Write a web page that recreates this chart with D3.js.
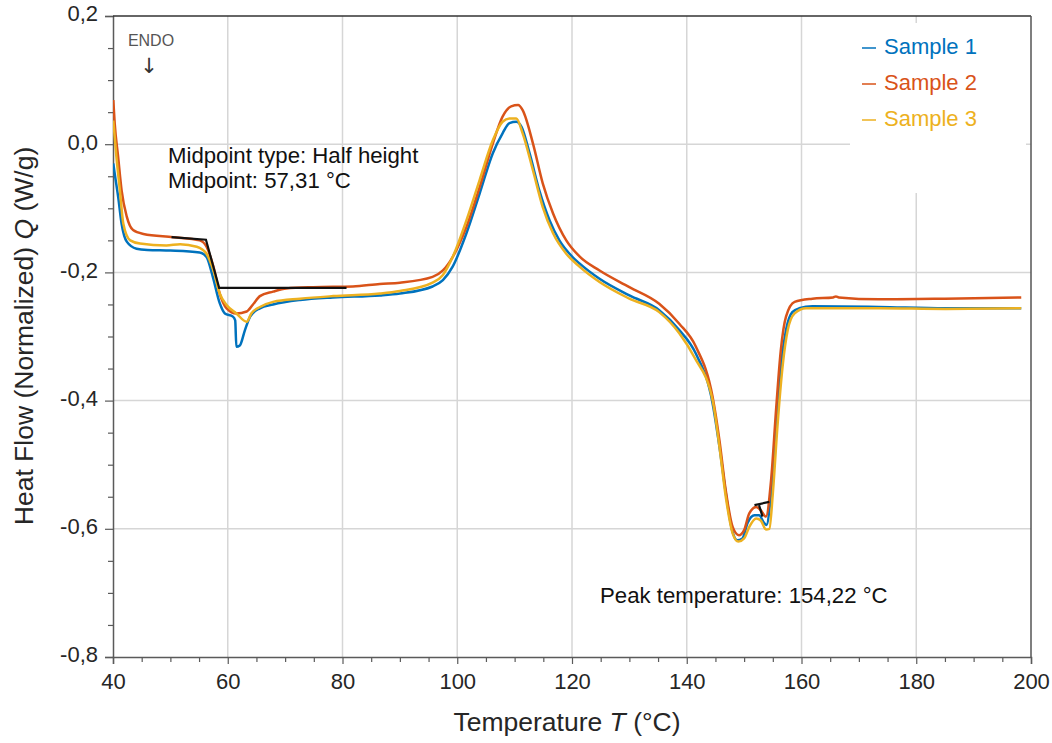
<!DOCTYPE html>
<html>
<head>
<meta charset="utf-8">
<script src="https://cdn.jsdelivr.net/npm/d3@7"></script>
<style>
  html, body { margin: 0; padding: 0; background: #ffffff; }
  svg { display: block; font-family: "Liberation Sans", Arial, sans-serif; }
</style>
</head>
<body>
<svg id="chart" width="1052" height="743"></svg>
<script>
// ---------------- DATA ----------------
const seriesNames = ["Sample 1", "Sample 2", "Sample 3"];
const seriesColors = ["#0072BD", "#D95319", "#EDB120"];

const sample1T = [40.05, 40.3, 40.9, 41.5, 42.4, 44.1, 46.0, 50.0, 55.1, 56.3, 57.4, 58.6, 59.5, 60.9, 61.3, 61.5, 62.1, 63.0, 63.9, 65.6, 67.9, 72.6, 78.3, 86.5, 90.0, 95.7, 97.5, 99.2, 101.6, 103.9, 106.2, 107.9, 109.1, 110.3, 111.2, 112.6, 114.3, 116.1, 117.8, 120.1, 121.3, 124.8, 130.0, 135.2, 138.7, 141.6, 144.5, 145.7, 146.8, 147.9, 148.8, 149.7, 150.6, 151.8, 152.6, 153.5, 153.9, 154.7, 155.6, 156.4, 157.3, 158.4, 159.6, 161.9, 173.5, 185.0, 198.3];
const sample1Q = [-0.030, -0.046, -0.082, -0.124, -0.152, -0.163, -0.165, -0.166, -0.169, -0.176, -0.207, -0.248, -0.264, -0.269, -0.275, -0.316, -0.314, -0.290, -0.269, -0.256, -0.250, -0.243, -0.239, -0.236, -0.233, -0.222, -0.212, -0.191, -0.139, -0.077, -0.014, 0.017, 0.033, 0.035, 0.027, -0.014, -0.072, -0.119, -0.150, -0.176, -0.186, -0.210, -0.236, -0.259, -0.290, -0.327, -0.404, -0.472, -0.544, -0.602, -0.618, -0.615, -0.591, -0.579, -0.579, -0.591, -0.594, -0.544, -0.441, -0.347, -0.290, -0.262, -0.256, -0.253, -0.254, -0.256, -0.256];

const sample2T = [40.05, 40.3, 40.9, 41.5, 42.4, 43.5, 45.3, 50.5, 55.1, 56.3, 57.5, 58.6, 59.8, 61.5, 63.3, 64.4, 65.6, 67.9, 70.2, 74.9, 81.8, 86.5, 90.0, 95.7, 97.5, 99.2, 101.6, 103.9, 106.2, 107.9, 109.4, 110.6, 111.4, 113.2, 114.9, 116.7, 119.0, 121.3, 124.8, 130.0, 135.2, 138.7, 141.6, 144.5, 145.7, 146.8, 148.0, 149.1, 150.0, 150.9, 152.1, 152.9, 153.8, 154.7, 155.6, 156.4, 157.3, 158.8, 161.9, 165.5, 166.0, 166.5, 173.5, 185.0, 198.3];
const sample2Q = [0.069, 0.032, -0.020, -0.072, -0.113, -0.134, -0.140, -0.145, -0.150, -0.160, -0.191, -0.233, -0.256, -0.264, -0.261, -0.250, -0.237, -0.230, -0.225, -0.223, -0.222, -0.218, -0.216, -0.207, -0.197, -0.176, -0.129, -0.067, 0.001, 0.043, 0.059, 0.061, 0.053, 0.001, -0.061, -0.108, -0.150, -0.175, -0.197, -0.223, -0.249, -0.280, -0.316, -0.394, -0.462, -0.540, -0.597, -0.610, -0.602, -0.576, -0.566, -0.571, -0.581, -0.524, -0.410, -0.321, -0.269, -0.246, -0.241, -0.239, -0.2375, -0.239, -0.242, -0.241, -0.239];

const sample3T = [40.05, 40.6, 41.2, 41.8, 43.0, 44.7, 49.3, 51.7, 54.6, 56.3, 57.5, 58.6, 59.8, 61.5, 63.3, 64.1, 65.6, 67.9, 72.6, 78.4, 86.5, 90.0, 95.7, 97.5, 99.2, 101.6, 103.9, 106.2, 107.9, 109.1, 110.3, 111.4, 113.2, 114.9, 116.7, 119.0, 121.3, 124.8, 130.0, 135.2, 138.7, 141.3, 144.5, 145.7, 146.8, 148.0, 149.0, 150.0, 150.9, 152.1, 152.9, 153.8, 154.4, 155.0, 155.8, 156.7, 157.6, 158.8, 160.8, 173.5, 185.0, 198.3];
const sample3Q = [0.037, -0.020, -0.072, -0.124, -0.150, -0.155, -0.158, -0.156, -0.160, -0.171, -0.197, -0.233, -0.251, -0.264, -0.277, -0.264, -0.254, -0.246, -0.241, -0.237, -0.233, -0.229, -0.216, -0.204, -0.176, -0.119, -0.056, 0.006, 0.035, 0.040, 0.040, 0.017, -0.041, -0.098, -0.139, -0.171, -0.191, -0.215, -0.241, -0.262, -0.295, -0.332, -0.399, -0.472, -0.550, -0.607, -0.620, -0.615, -0.597, -0.584, -0.587, -0.601, -0.600, -0.545, -0.441, -0.347, -0.290, -0.264, -0.256, -0.256, -0.257, -0.256];

// Glass transition construction (black) and peak construction
const tgLineT = [50.2, 56.2, 58.5, 80.7];
const tgLineQ = [-0.145, -0.149, -0.224, -0.224];
const peakLine1T = [151.8, 154.4];
const peakLine1Q = [-0.563, -0.558];
const peakLine2T = [152.6, 153.2];
const peakLine2Q = [-0.563, -0.581];

// Axes
const xDomain = [40, 200];
const yDomain = [-0.8, 0.2];
const xMajorTicks = [40, 60, 80, 100, 120, 140, 160, 180, 200];
const xTickLabels = ["40", "60", "80", "100", "120", "140", "160", "180", "200"];
const yMajorTicks = [0.2, 0.0, -0.2, -0.4, -0.6, -0.8];
const yTickLabels = ["0,2", "0,0", "-0,2", "-0,4", "-0,6", "-0,8"];
const xMinorStep = 5;
const yMinorStep = 0.05;

const annotations = [
  { text: "Midpoint type: Half height", x: 168, y: 163 },
  { text: "Midpoint: 57,31 °C", x: 168, y: 188 },
  { text: "Peak temperature: 154,22 °C", x: 600, y: 603 }
];

// ---------------- CHART ----------------
const svg = d3.select("#chart");
const L = 113, R = 1031, T = 16, B = 657;
const x = d3.scaleLinear().domain(xDomain).range([L, R]);
const y = d3.scaleLinear().domain(yDomain).range([B, T]);

const gridColor = "#d6d6d6";
const axisColor = "#5a5a5a";
const textColor = "#262626";

// gridlines
const g = svg.append("g");
g.selectAll(".vgrid").data(xMajorTicks.filter(d => d > xDomain[0] && d < xDomain[1]))
  .enter().append("line")
  .attr("x1", d => x(d)).attr("x2", d => x(d))
  .attr("y1", T).attr("y2", B)
  .attr("stroke", gridColor).attr("stroke-width", 1.5);
g.selectAll(".hgrid").data(yMajorTicks.filter(d => d > yDomain[0] && d < yDomain[1]))
  .enter().append("line")
  .attr("x1", L).attr("x2", R)
  .attr("y1", d => y(d)).attr("y2", d => y(d))
  .attr("stroke", gridColor).attr("stroke-width", 1.5);

// legend background box (hides grid)
svg.append("rect").attr("x", 850).attr("y", 23).attr("width", 176).attr("height", 170)
  .attr("fill", "#ffffff");

// minor ticks
const xMinor = d3.range(xDomain[0], xDomain[1] + 0.001, xMinorStep);
const yMinor = d3.range(yDomain[0], yDomain[1] + 0.0001, yMinorStep);

// x axis
const xAxis = d3.axisBottom(x).tickValues(xMajorTicks)
  .tickFormat((d, i) => xTickLabels[i]).tickSize(7).tickPadding(9);
const xg = svg.append("g").attr("transform", `translate(0,${B})`).call(xAxis);
xg.select(".domain").attr("stroke", axisColor).attr("stroke-width", 1.5);
xg.selectAll(".tick line").attr("stroke", axisColor).attr("stroke-width", 1.2);
xg.selectAll(".tick text").attr("fill", textColor).attr("font-size", 22)
  .attr("font-family", "Liberation Sans, Arial, sans-serif");
const xgm = svg.append("g").attr("transform", `translate(0,${B})`)
  .call(d3.axisBottom(x).tickValues(xMinor.filter(v => !xMajorTicks.includes(v))).tickSize(5).tickFormat(""));
xgm.select(".domain").remove();
xgm.selectAll(".tick line").attr("stroke", axisColor).attr("stroke-width", 1.2);

// y axis
const yAxis = d3.axisLeft(y).tickValues(yMajorTicks)
  .tickFormat((d, i) => yTickLabels[i]).tickSize(8).tickPadding(7);
const yg = svg.append("g").attr("transform", `translate(${L},0)`).call(yAxis);
yg.select(".domain").attr("stroke", axisColor).attr("stroke-width", 1.5);
yg.selectAll(".tick line").attr("stroke", axisColor).attr("stroke-width", 1.2);
yg.selectAll(".tick text").attr("fill", textColor).attr("font-size", 22)
  .attr("dy", "0.22em")
  .attr("font-family", "Liberation Sans, Arial, sans-serif");
const ygm = svg.append("g").attr("transform", `translate(${L},0)`)
  .call(d3.axisLeft(y).tickValues(yMinor.filter(v => !yMajorTicks.some(t => Math.abs(t - v) < 1e-6))).tickSize(5).tickFormat(""));
ygm.select(".domain").remove();
ygm.selectAll(".tick line").attr("stroke", axisColor).attr("stroke-width", 1.2);

// top and right frame
svg.append("line").attr("x1", L).attr("x2", R).attr("y1", T).attr("y2", T)
  .attr("stroke", "#333").attr("stroke-width", 1.5);
svg.append("line").attr("x1", R).attr("x2", R).attr("y1", T).attr("y2", B)
  .attr("stroke", "#555").attr("stroke-width", 1.5);

// clip
svg.append("clipPath").attr("id", "plotclip").append("rect")
  .attr("x", L).attr("y", T).attr("width", R - L).attr("height", B - T);

const line = d3.line().x(d => x(d[0])).y(d => y(d[1])).curve(d3.curveMonotoneX);
const zipPts = (a, b) => a.map((v, i) => [v, b[i]]);

const series = [
  zipPts(sample1T, sample1Q),
  zipPts(sample2T, sample2Q),
  zipPts(sample3T, sample3Q)
];
const plot = svg.append("g").attr("clip-path", "url(#plotclip)");
plot.selectAll(".series").data(series).enter().append("path")
  .attr("d", d => line(d))
  .attr("fill", "none")
  .attr("stroke", (d, i) => seriesColors[i])
  .attr("stroke-width", 2.5)
  .attr("stroke-linejoin", "round");

// black construction lines
const lineLin = d3.line().x(d => x(d[0])).y(d => y(d[1]));
[zipPts(tgLineT, tgLineQ), zipPts(peakLine1T, peakLine1Q), zipPts(peakLine2T, peakLine2Q)]
  .forEach(pts => {
    plot.append("path").attr("d", lineLin(pts)).attr("fill", "none")
      .attr("stroke", "#111").attr("stroke-width", 2.2);
  });

// annotations
svg.selectAll(".ann").data(annotations).enter().append("text")
  .attr("x", d => d.x).attr("y", d => d.y)
  .attr("font-size", 22.2).attr("fill", "#111")
  .text(d => d.text);

// ENDO marker
svg.append("text").attr("x", 151).attr("y", 46).attr("text-anchor", "middle")
  .attr("font-size", 16).attr("fill", "#555").text("ENDO");
svg.append("text").attr("x", 149).attr("y", 73).attr("text-anchor", "middle")
  .attr("font-size", 21).attr("fill", "#333")
  .attr("font-family", "DejaVu Sans, sans-serif").text("↓");

// legend
const leg = svg.append("g");
seriesNames.forEach((name, i) => {
  const yy = 54 + i * 36;
  leg.append("line").attr("x1", 862).attr("x2", 876).attr("y1", yy - 6).attr("y2", yy - 6)
    .attr("stroke", seriesColors[i]).attr("stroke-width", 1.5);
  leg.append("text").attr("x", 884).attr("y", yy).attr("font-size", 22)
    .attr("fill", seriesColors[i]).text(name);
});

// axis titles
const xt = svg.append("text").attr("x", 567).attr("y", 731).attr("text-anchor", "middle")
  .attr("font-size", 26.5).attr("fill", textColor);
xt.append("tspan").text("Temperature ");
xt.append("tspan").attr("font-style", "italic").text("T");
xt.append("tspan").text(" (°C)");

const yt = svg.append("text").attr("transform", "translate(33,336) rotate(-90)")
  .attr("text-anchor", "middle").attr("font-size", 26.5).attr("fill", textColor);
yt.append("tspan").text("Heat Flow (Normalized) ");
yt.append("tspan").attr("font-style", "italic").text("Q");
yt.append("tspan").text(" (W/g)");
</script>
</body>
</html>
